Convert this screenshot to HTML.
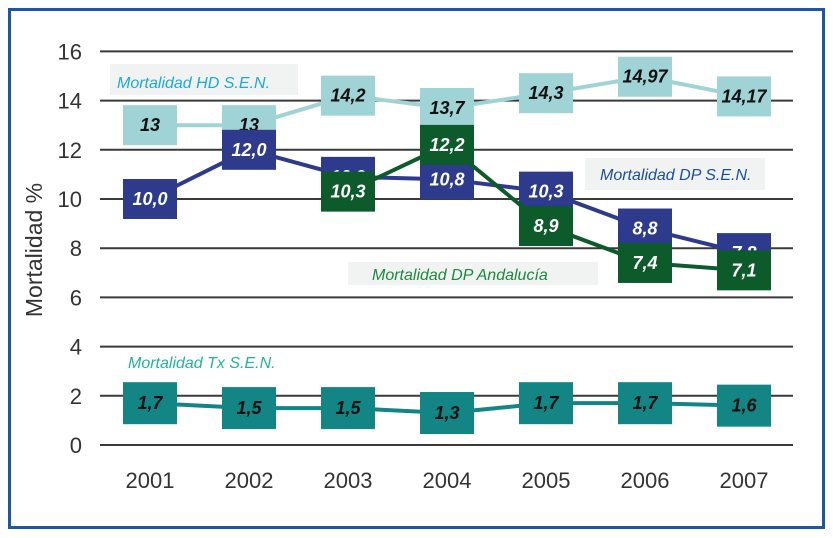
<!DOCTYPE html>
<html><head><meta charset="utf-8"><style>
body{margin:0;background:#fff;}
svg{display:block;font-family:"Liberation Sans",sans-serif;}
.box text{font-weight:bold;font-style:italic;font-size:18px;text-anchor:middle;}
</style></head><body>
<svg id="chart" width="833" height="538">
<rect x="9.5" y="9.5" width="814" height="518" fill="#fff" stroke="#1d56a8" stroke-width="3"/>
<g id="grid"></g>
<text transform="translate(42,250) rotate(-90)" text-anchor="middle" font-size="23" fill="#333">Mortalidad %</text>
<rect x="110" y="64" width="188" height="31" fill="#f1f2f2"/>
<text x="117" y="88" font-size="16" font-style="italic" fill="#1ba8e0">Mortalidad HD S.E.N.</text>
<rect x="585" y="158" width="180" height="32" fill="#f1f2f2"/>
<text x="600" y="180" font-size="16" font-style="italic" fill="#1a4fa0">Mortalidad DP S.E.N.</text>
<rect x="348" y="262" width="250" height="23" fill="#f1f2f2"/>
<text x="372" y="280" font-size="16" font-style="italic" fill="#1a8a3a">Mortalidad DP Andalucía</text>
<text x="128" y="368" font-size="16" font-style="italic" fill="#22b39a">Mortalidad Tx S.E.N.</text>
<g id="series"></g>
</svg>
<script>
const years=["2001","2002","2003","2004","2005","2006","2007"];
const yTicks=[0,2,4,6,8,10,12,14,16];
const hd=[13,13,14.2,13.7,14.3,14.97,14.17];
const hdLabels=["13","13","14,2","13,7","14,3","14,97","14,17"];
const dp=[10.0,12.0,10.9,10.8,10.3,8.8,7.8];
const dpLabels=["10,0","12,0","10,9","10,8","10,3","8,8","7.8"];
const dpa=[null,null,10.3,12.2,8.9,7.4,7.1];
const dpaLabels=["","","10,3","12,2","8,9","7,4","7,1"];
const tx=[1.7,1.5,1.5,1.3,1.7,1.7,1.6];
const txLabels=["1,7","1,5","1,5","1,3","1,7","1,7","1,6"];
const NS="http://www.w3.org/2000/svg";
const xs=i=>150+i*99;
const ys=v=>445-v*24.6;
const grid=document.getElementById('grid'),ser=document.getElementById('series');
function mk(t,a,p){const e=document.createElementNS(NS,t);for(const k in a)e.setAttribute(k,a[k]);p.appendChild(e);return e;}
yTicks.forEach(v=>{
 const l=mk('line',{x1:100,x2:793,y1:ys(v),y2:ys(v),stroke:'#3a3a3a','stroke-width':2},grid);
 
 
 const t=mk('text',{x:82,y:ys(v)+8,'text-anchor':'end','font-size':22,fill:'#333'},grid);
 t.textContent=v;
 
 
});
years.forEach((y,i)=>{
 const t=mk('text',{x:xs(i),y:488,'text-anchor':'middle','font-size':22,fill:'#333'},grid);
 t.textContent=y;
 
 
});
function series(name,vals,labels,line,fill,txt,w,h){
 const pts=[];vals.forEach((v,i)=>{if(v!==null)pts.push([xs(i),ys(v)]);});
 const pl=mk('polyline',{points:pts.map(p=>p.join(',')).join(' '),fill:'none',stroke:line,'stroke-width':4},ser);
 
 
 vals.forEach((v,i)=>{
  if(v===null)return;
  const g=mk('g',{class:'box'},ser);
  
  
  mk('rect',{x:xs(i)-w/2,y:ys(v)-h/2,width:w,height:h,fill:fill},g);
  const t=mk('text',{x:xs(i),y:ys(v)+6,fill:txt},g);
  t.textContent=labels[i];
 });
}
series('hd',hd,hdLabels,'#9fd3d6','#9fd3d6','#111',54,40);
series('dp',dp,dpLabels,'#2e3a8c','#2e3a8c','#fff',54,40);
series('dpa',dpa,dpaLabels,'#0d5a2a','#0d5a2a','#fff',54,40);
series('tx',tx,txLabels,'#138585','#138585','#111',54,42);
</script>
</body></html>
